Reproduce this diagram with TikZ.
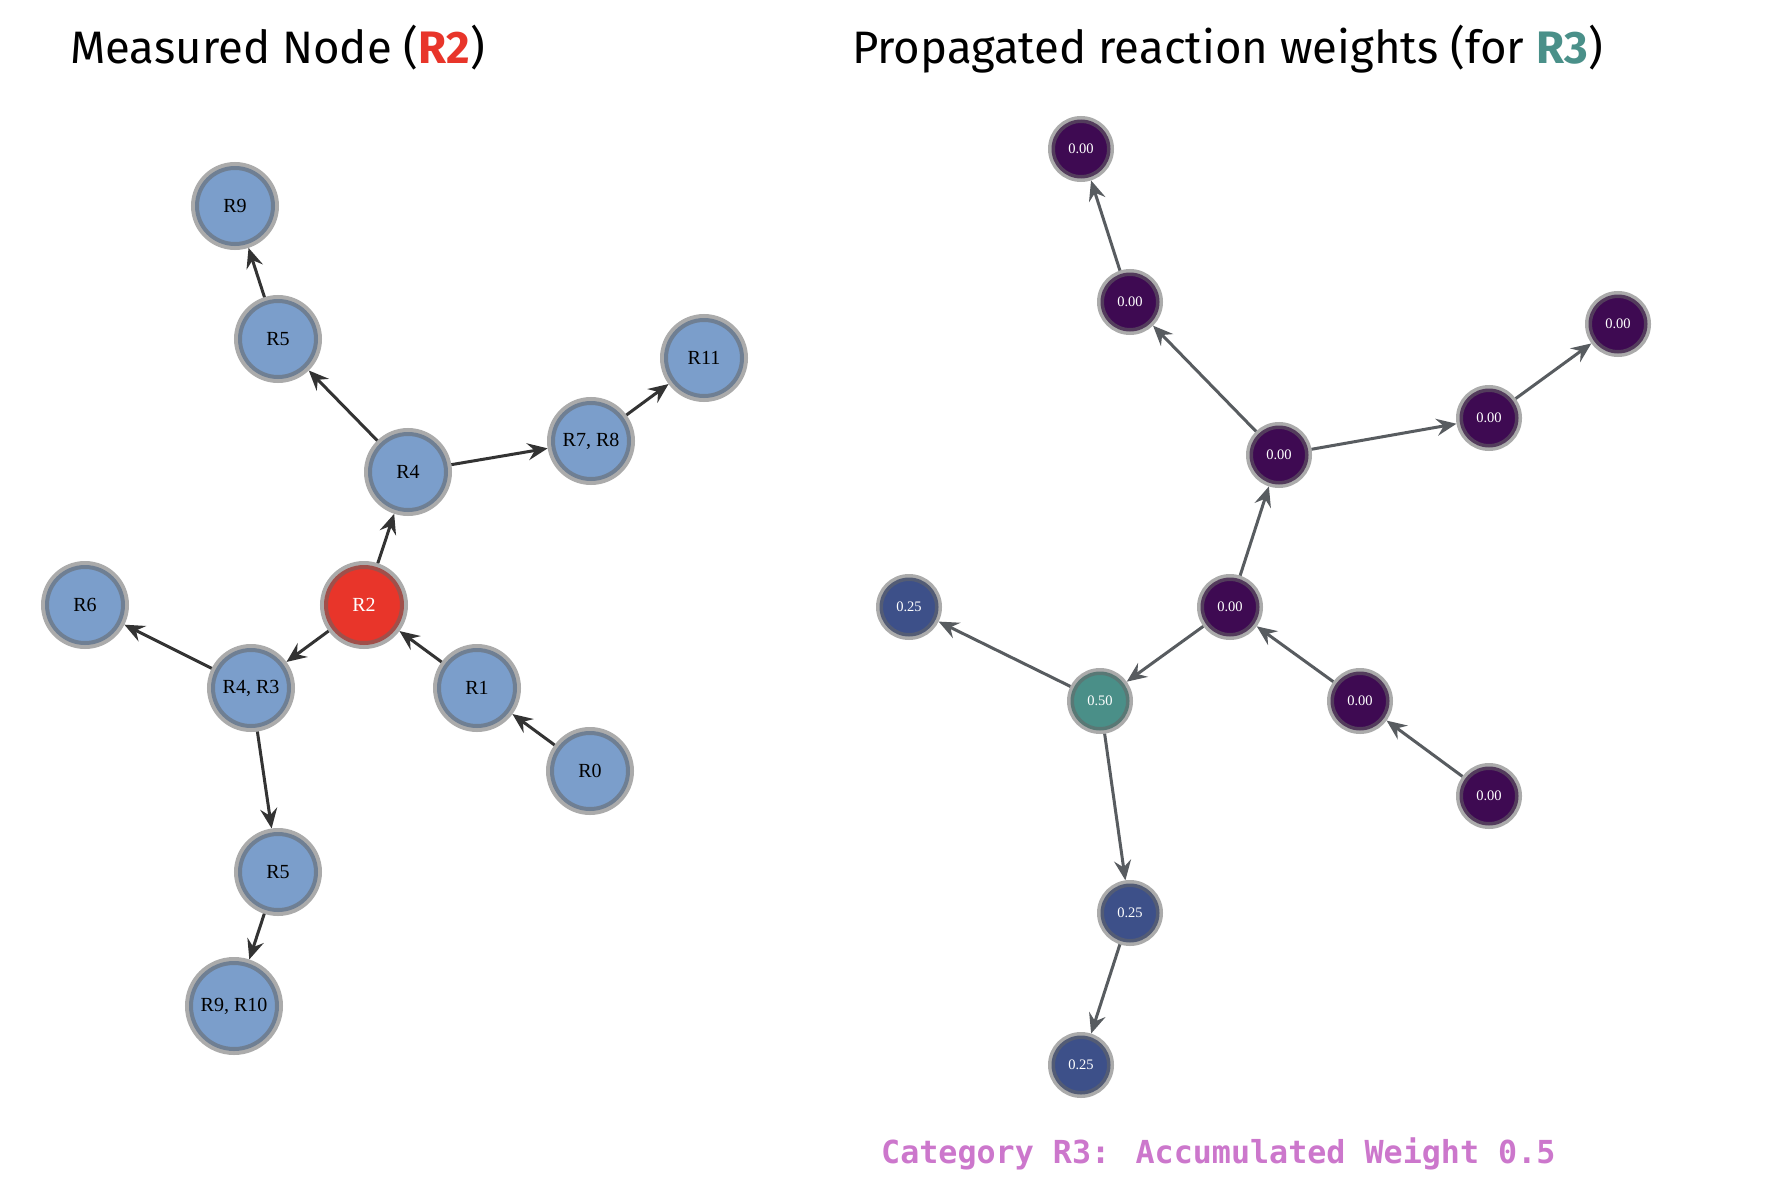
\documentclass[tikz,border=0pt]{standalone}
\usepackage{fontspec}
\setmainfont{Liberation Serif}
\newfontfamily\titlefont{Fira Sans}
\newfontfamily\monofont{DejaVu Sans Mono}
\usetikzlibrary{arrows.meta}
\definecolor{nblue}{HTML}{7B9ECB}
\definecolor{nred}{HTML}{E8352A}
\definecolor{vpurple}{HTML}{3E0A52}
\definecolor{vnavy}{HTML}{3D5089}
\definecolor{vteal}{HTML}{4A8F88}
\definecolor{tteal}{HTML}{4A9089}
\definecolor{orchidtxt}{HTML}{CC77CC}
\definecolor{edgedark}{HTML}{333333}
\definecolor{edgegrey}{HTML}{585C60}
\tikzset{
  lnode/.style={circle, minimum size=80pt, inner sep=0pt, line width=8pt,
    draw=black!60, draw opacity=0.55, fill=nblue,
    font=\fontsize{20}{23}\selectfont, text=black},
  rnode/.style={circle, minimum size=59pt, inner sep=0pt, line width=7pt,
    draw=black!60, draw opacity=0.55, fill=vpurple,
    font=\fontsize{14.5}{16}\selectfont, text=white},
  larrow/.style={draw=edgedark, line width=3pt,
    -{Stealth[length=20pt, width=17pt, inset=7pt]}},
  rarrow/.style={draw=edgegrey, line width=3pt,
    -{Stealth[length=20pt, width=17pt, inset=7pt]}},
  titletext/.style={anchor=base west, inner sep=0pt,
    font=\titlefont\fontsize{45.5}{50}\selectfont}
}
\begin{document}
\begin{tikzpicture}[x=1pt, y=-1pt]
\useasboundingbox (0,0) rectangle (1782,1188);
\fill[white] (0,0) rectangle (1782,1188);

% titles
\node[titletext] (t1) at (70,64) {Measured Node ({\color{nred}\bfseries R2})};
\node[titletext] (t2) at (852,64) {Propagated reaction weights (for {\color{tteal}\bfseries R3})};

% left graph
\node[lnode] (L9)   at (235,206) {R9};
\node[lnode] (L5a)  at (278,339) {R5};
\node[lnode] (L11)  at (704,358) {R11};
\node[lnode] (L78)  at (591,441) {R7, R8};
\node[lnode] (L4)   at (408,472) {R4};
\node[lnode] (L6)   at (85,605)  {R6};
\node[lnode, fill=nred, text=white] (L2) at (364,605) {R2};
\node[lnode] (L43)  at (251,688) {R4, R3};
\node[lnode] (L1)   at (477,688) {R1};
\node[lnode] (L0)   at (590,771) {R0};
\node[lnode] (L5b)  at (278,872) {R5};
\node[lnode, minimum size=90pt] (L910) at (234,1006) {R9, R10};

\draw[larrow] (L2) -- (L4);
\draw[larrow] (L4) -- (L5a);
\draw[larrow] (L5a) -- (L9);
\draw[larrow] (L4) -- (L78);
\draw[larrow] (L78) -- (L11);
\draw[larrow] (L2) -- (L43);
\draw[larrow] (L43) -- (L6);
\draw[larrow] (L43) -- (L5b);
\draw[larrow] (L5b) -- (L910);
\draw[larrow] (L1) -- (L2);
\draw[larrow] (L0) -- (L1);

% right graph
\node[rnode] (Ra1) at (1081,149) {0.00};
\node[rnode] (Ra2) at (1130,302) {0.00};
\node[rnode] (Rb2) at (1618,324) {0.00};
\node[rnode] (Rb)  at (1489,418) {0.00};
\node[rnode] (Rcu) at (1279,455) {0.00};
\node[rnode, fill=vnavy] (Rl) at (909,607) {0.25};
\node[rnode] (Rc)  at (1230,607) {0.00};
\node[rnode, fill=vteal] (Rh) at (1100,701) {0.50};
\node[rnode] (Rd)  at (1360,701) {0.00};
\node[rnode] (Re)  at (1489,796) {0.00};
\node[rnode, fill=vnavy] (Rm) at (1130,913) {0.25};
\node[rnode, fill=vnavy] (Rm2) at (1081,1065) {0.25};

\draw[rarrow] (Rc) -- (Rcu);
\draw[rarrow] (Rcu) -- (Ra2);
\draw[rarrow] (Ra2) -- (Ra1);
\draw[rarrow] (Rcu) -- (Rb);
\draw[rarrow] (Rb) -- (Rb2);
\draw[rarrow] (Rc) -- (Rh);
\draw[rarrow] (Rh) -- (Rl);
\draw[rarrow] (Rh) -- (Rm);
\draw[rarrow] (Rm) -- (Rm2);
\draw[rarrow] (Rd) -- (Rc);
\draw[rarrow] (Re) -- (Rd);

% caption
\node[anchor=base west, inner sep=0pt, text=orchidtxt,
  font=\monofont\bfseries\fontsize{31.7}{36}\selectfont] (cap) at (881,1163)
  {Category R3: Accumulated Weight 0.5};
\end{tikzpicture}
\end{document}
